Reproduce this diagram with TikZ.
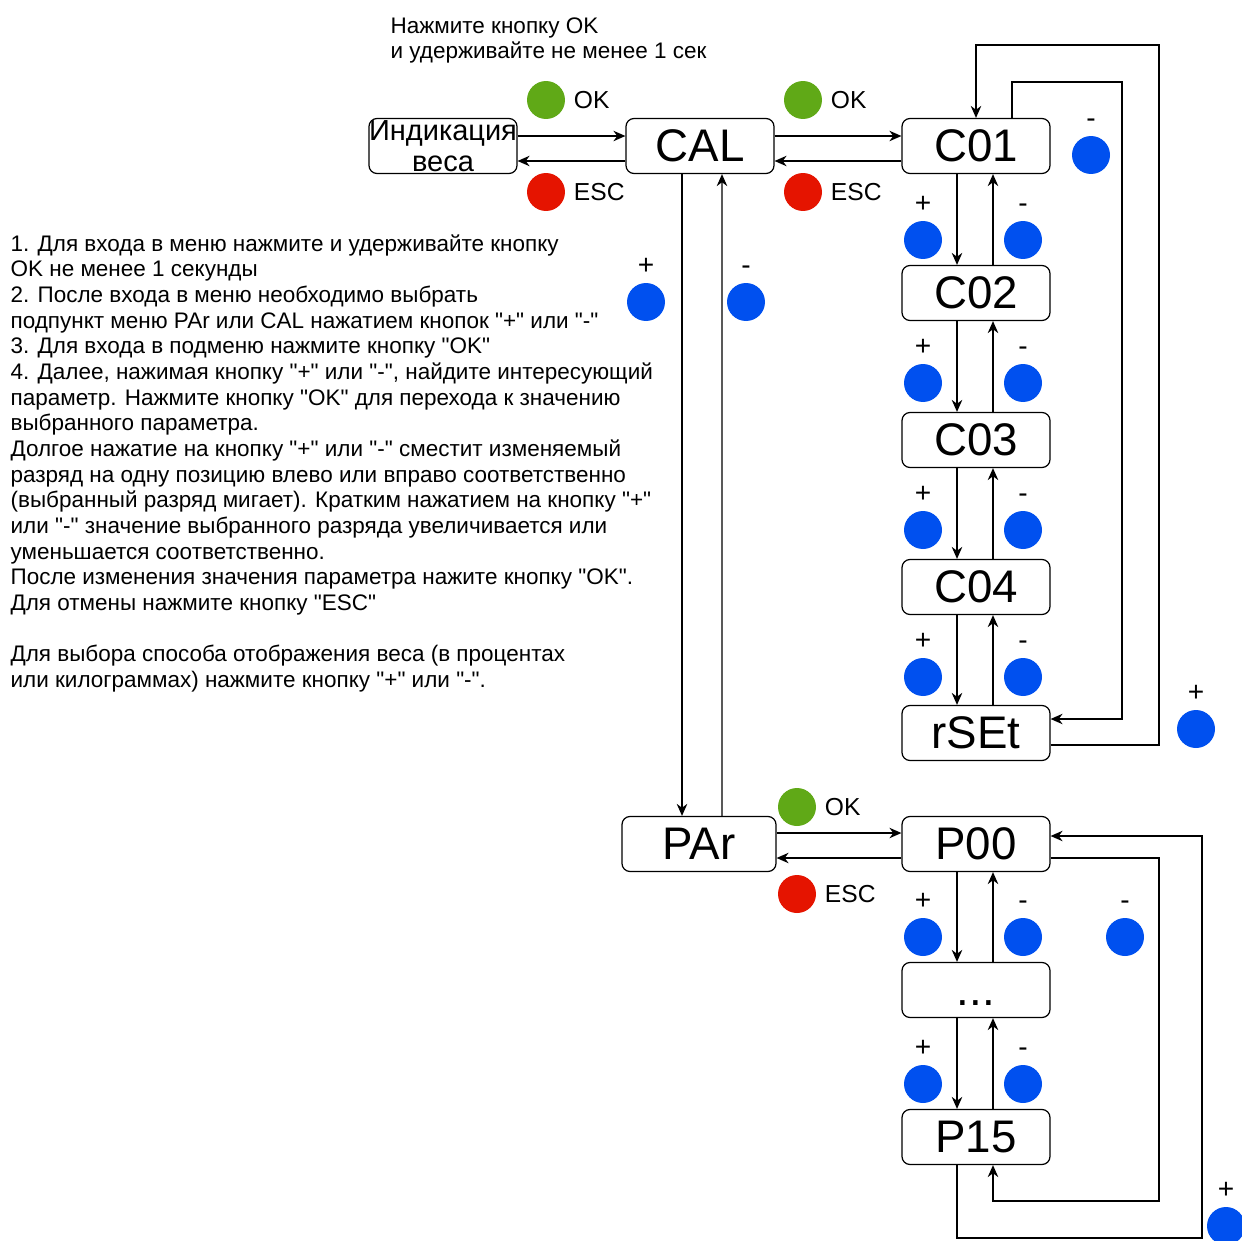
\documentclass[tikz,border=0pt]{standalone}
\usepackage{fontspec}
\setmainfont{Liberation Sans}[Ligatures=TeXOff]
\usetikzlibrary{positioning,arrows.meta}

\definecolor{okgreen}{HTML}{60A917}
\definecolor{escred}{HTML}{E51400}
\definecolor{btnblue}{HTML}{0050EF}

\begin{document}
\begin{tikzpicture}[x=0.02cm, y=-0.02cm, line width=0.7pt, >={Stealth[length=2.4mm,width=2.1mm]},
    box/.style={draw, rounded corners=1.6mm, minimum width=2.96cm, minimum height=1.1cm,
                inner sep=0pt, font=\fontsize{26}{28}\selectfont},
    btn/.style={circle, minimum size=0.76cm, inner sep=0pt},
    lbl/.style={font=\fontsize{14}{16}\selectfont, inner sep=1pt},
    sgn/.style={font=\fontsize{16}{18}\selectfont, inner sep=1pt}]
    \useasboundingbox (0,0) rectangle (1242,1241);

    % Notes
    \node[anchor=north west, inner sep=0pt, align=left, font=\fontsize{12.8}{14.6}\selectfont] (topnote) at (390,17)
        {Нажмите кнопку OK\\и удерживайте не менее 1 сек};
    \node[anchor=north west, inner sep=0pt, align=left, font=\fontsize{12.8}{14.6}\selectfont] (howto) at (10,234)
        {1. Для входа в меню нажмите и удерживайте кнопку\\
         OK не менее 1 секунды\\
         2. После входа в меню необходимо выбрать\\
         подпункт меню PAr или CAL нажатием кнопок "+" или "-"\\
         3. Для входа в подменю нажмите кнопку "OK"\\
         4. Далее, нажимая кнопку "+" или "-", найдите интересующий\\
         параметр. Нажмите кнопку "OK" для перехода к значению\\
         выбранного параметра.\\
         Долгое нажатие на кнопку "+" или "-" сместит изменяемый\\
         разряд на одну позицию влево или вправо соответственно\\
         (выбранный разряд мигает). Кратким нажатием на кнопку "+"\\
         или "-" значение выбранного разряда увеличивается или\\
         уменьшается соответственно.\\
         После изменения значения параметра нажите кнопку "OK".\\
         Для отмены нажмите кнопку "ESC"\\[14.6pt]
         Для выбора способа отображения веса (в процентах\\
         или килограммах) нажмите кнопку "+" или "-".};

    % Menu boxes
    \node[box, align=center, font=\fontsize{16.5}{17.8}\selectfont] (ind) at (443,146) {Индикация\\веса};
    \node[box] (cal) at (700,146) {CAL};
    \node[box] (c01) at (976,146) {C01};
    \node[box] (c02) at (976,293) {C02};
    \node[box] (c03) at (976,440) {C03};
    \node[box] (c04) at (976,587) {C04};
    \node[box] (rset) at (976,733) {rSEt};
    \node[box, minimum width=3.08cm] (par) at (699,844) {PAr};
    \node[box] (p00) at (976,844) {P00};
    \node[box] (pdots) at (976,990) {\vphantom{P}...};
    \node[box] (p15) at (976,1137) {P15};

    % OK / ESC between the levels
    \draw[->] ([yshift=0.2cm]ind.east) -- ([yshift=0.2cm]cal.west);
    \draw[->] ([yshift=-0.3cm]cal.west) -- ([yshift=-0.3cm]ind.east);
    \draw[->] ([yshift=0.2cm]cal.east) -- ([yshift=0.2cm]c01.west);
    \draw[->] ([yshift=-0.3cm]c01.west) -- ([yshift=-0.3cm]cal.east);
    \draw[->] ([yshift=0.22cm]par.east) -- ([yshift=0.22cm]p00.west);
    \draw[->] ([yshift=-0.28cm]p00.west) -- ([yshift=-0.28cm]par.east);
    \foreach \n/\x/\y in {a/546/100, b/803/100, c/797/807} {
        \node[btn, fill=okgreen] (ok\n) at (\x,\y) {};
        \node[lbl, right=0.12cm of ok\n] (okl\n) {OK};
    }
    \foreach \n/\x/\y in {a/546/192, b/803/192, c/797/894} {
        \node[btn, fill=escred] (esc\n) at (\x,\y) {};
        \node[lbl, right=0.12cm of esc\n] (escl\n) {ESC};
    }

    % CAL <-> PAr
    \draw[->] ([xshift=-0.36cm]cal.south) -- ([xshift=-0.34cm]par.north);
    \draw[->] ([xshift=0.46cm]par.north) -- ([xshift=0.44cm]cal.south);
    \node[btn, fill=btnblue] (calp) at (646,302) {};
    \node[sgn, above=3pt of calp] (calpl) {+};
    \node[btn, fill=btnblue] (calm) at (746,302) {};
    \node[sgn, above=3pt of calm] (calml) {-};

    % +/- steps down the lists
    \foreach \ua/\ub/\y in {c01/c02/240, c02/c03/383, c03/c04/530, c04/rset/677, p00/pdots/937, pdots/p15/1084} {
        \draw[->] ([xshift=-0.38cm]\ua.south) -- ([xshift=-0.38cm]\ub.north);
        \draw[->] ([xshift=0.34cm]\ub.north) -- ([xshift=0.34cm]\ua.south);
        \node[btn, fill=btnblue] (plus\ua) at (923,\y) {};
        \node[sgn, above=3pt of plus\ua] (plusl\ua) {+};
        \node[btn, fill=btnblue] (minus\ua) at (1023,\y) {};
        \node[sgn, above=3pt of minus\ua] (minusl\ua) {-};
    }

    % Wrap-around C01 <-> rSEt
    \coordinate (cin) at (1122,82);
    \coordinate (cout) at (1159,45);
    \draw[->] ([xshift=0.72cm]c01.north) |- (cin) |- ([yshift=0.28cm]rset.east);
    \draw[->] ([yshift=-0.24cm]rset.east) -| (cout) -| (c01.north);
    \node[btn, fill=btnblue] (cwm) at (1091,155) {};
    \node[sgn, above=3pt of cwm] (cwml) {-};
    \node[btn, fill=btnblue] (cwp) at (1196,729) {};
    \node[sgn, above=3pt of cwp] (cwpl) {+};

    % Wrap-around P00 <-> P15
    \coordinate (pin) at (1159,1201);
    \coordinate (pout) at (1202,1238);
    \draw[->] ([yshift=-0.28cm]p00.east) -| (pin) -| ([xshift=0.34cm]p15.south);
    \draw[->] ([xshift=-0.38cm]p15.south) |- (pout) |- ([yshift=0.16cm]p00.east);
    \node[btn, fill=btnblue] (pwm) at (1125,937) {};
    \node[sgn, above=3pt of pwm] (pwml) {-};
    \node[btn, fill=btnblue] (pwp) at (1226,1226) {};
    \node[sgn, above=3pt of pwp] (pwpl) {+};
\end{tikzpicture}
\end{document}
